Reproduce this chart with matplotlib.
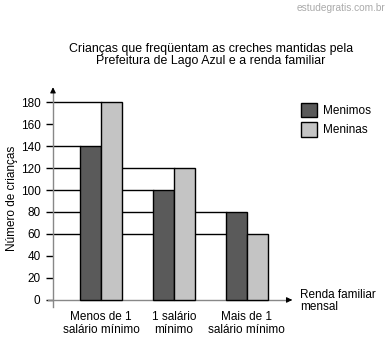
import numpy as np
import matplotlib.pyplot as plt

plt.rcParams['font.family'] = ['Liberation Sans', 'DejaVu Sans']

categories = ['Menos de 1\nsalário mínimo', '1 salário\nmínimo', 'Mais de 1\nsalário mínimo']
meninos = [140, 100, 80]
meninas = [180, 120, 60]
yticks = [0, 20, 40, 60, 80, 100, 120, 140, 160, 180]

fig = plt.figure(figsize=(3.91, 3.49), dpi=100)
ax = fig.add_axes([53 / 391, 1 - 307 / 349, 242 / 391, 222 / 349])

x = np.arange(len(categories)) * 1.0
w = 0.29
xmin, xmax = -0.658, 2.66
ax.set_xlim(xmin, xmax)
ax.set_ylim(-6.4, 195.5)

# bars
ax.bar(x - w / 2, meninos, w, color='#5a5a5a', edgecolor='black', linewidth=1, zorder=3, label='Menimos')
ax.bar(x + w / 2, meninas, w, color='#c4c4c4', edgecolor='black', linewidth=1, zorder=3, label='Meninas')

# reference lines from the axis to each bar
for i in range(len(categories)):
    ax.plot([xmin, x[i] - w], [meninos[i], meninos[i]], color='black', lw=1, zorder=1)
    ax.plot([xmin, x[i]], [meninas[i], meninas[i]], color='black', lw=1, zorder=1)

# axes with arrows
for s in ax.spines.values():
    s.set_visible(False)
ax.plot([xmin, xmin], [-6.4, 190], color='#888888', lw=1, zorder=2, clip_on=False)
ax.plot([xmin - 0.07, 2.55], [0, 0], color='#888888', lw=1, zorder=2, clip_on=False)
ax.annotate('', xy=(xmin, 196), xytext=(xmin, 188), xycoords='data',
            arrowprops=dict(arrowstyle='-|>', color='black', lw=0.8, mutation_scale=8),
            annotation_clip=False)
ax.annotate('', xy=(2.66, 0), xytext=(2.55, 0), xycoords='data',
            arrowprops=dict(arrowstyle='-|>', color='black', lw=0.8, mutation_scale=8),
            annotation_clip=False)

ax.set_yticks(yticks)
ax.set_yticklabels([str(v) for v in yticks], fontsize=8.5)
ax.tick_params(axis='y', length=5, width=1, color='black', pad=4)
ax.set_xticks(x)
ax.set_xticklabels(categories, fontsize=8.5, linespacing=1.1)
ax.tick_params(axis='x', length=0, pad=3)

ax.set_ylabel('Número de crianças', fontsize=8.5)
ax.yaxis.set_label_coords(-0.145, 0.49)

fig.text(300 / 391, 1 - 301 / 349, 'Renda familiar\nmensal', fontsize=8.5, ha='left', va='center', linespacing=1.05)

fig.text(211 / 391, 1 - 55 / 349, 'Crianças que freqüentam as creches mantidas pela\nPrefeitura de Lago Azul e a renda familiar',
         fontsize=8.9, ha='center', va='center', linespacing=1.1)
fig.text(385 / 391, 1 - 8 / 349, 'estudegratis.com.br', fontsize=7.3, color='#aaaaaa', ha='right', va='center')

ax.legend(loc='upper left', bbox_to_anchor=(290 / 391, 1 - 92 / 349), bbox_transform=fig.transFigure,
          frameon=False, fontsize=8.5, handlelength=1.35, handleheight=1.5, labelspacing=0.45, handletextpad=0.55)

fig.savefig('out.png', dpi=100)
